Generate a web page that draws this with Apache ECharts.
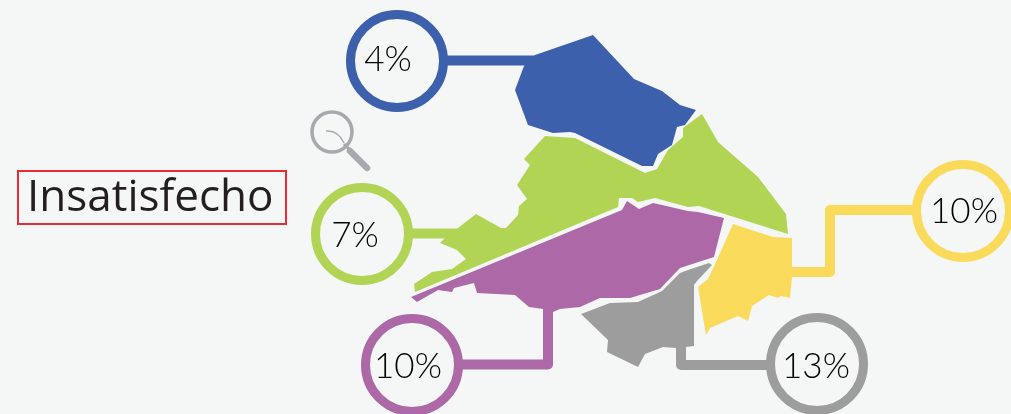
<!DOCTYPE html>
<html>
<head>
<meta charset="utf-8">
<style>
	html, body { margin: 0; padding: 0; background: #f5f7f6; }
	#chart { width: 1011px; height: 414px; }
</style>
<script src="https://cdn.jsdelivr.net/npm/echarts@6/dist/echarts.min.js"></script>
</head>
<body>
<div id="chart"></div>
<script>
let titleText = "Insatisfecho";
let regions = ["norte", "oeste", "centro", "leste", "sul"];
let percents = [4, 7, 10, 10, 13];
let colors = ["#3c60ab", "#b1d455", "#ad68a8", "#f9da5a", "#9d9d9d"];

// region outlines, in the pixel space of the svg base map
let outlines = {
	norte: "535,55 593,35 634,79 662,91 680,105 696,110 685,125 677,127 672,145 658,154 653,166 642,166 575,133 570,132 553,133 528,125 515,90 524,66",
	oeste: "545,136 575,138 645,173 657,169 668,150 683,137 683,128 702,114 718,142 758,177 786,214 788,234 699,206 688,207 655,198 638,202 632,198 619,198 618,207 415,292 414,284 432,272 452,269 466,259 457,250 440,243 444,239 458,228 476,214 501,228 506,228 518,215 519,206 527,199 517,185 530,165 524,159",
	centro: "411,297 417,302 438,290 452,292 454,288 474,283 477,293 515,295 529,307 543,309 553,312 560,309 580,307 600,298 630,298 660,289 680,268 714,257 724,218 698,212 688,211 653,203 639,209 627,201 622,210",
	leste: "733,224 773,237 792,238 792,277 790,298 781,296 778,298 769,295 752,306 748,321 738,316 710,328 706,335 698,287 708,279 717,260",
	sul: "709,263 712,265 697,281 694,285 694,346 686,347 676,348 663,347 645,354 638,367 607,352 608,340 581,314 610,303 638,302 662,291 680,273 688,270",
};

// bubble centres and leader lines, same pixel space
let bubbleCenters = [[397, 61], [362, 234], [412, 365], [963, 211], [817, 364]];
let labelOffsets = [[-9, -1], [-7, 2], [-4, 2], [1, 1], [-1, 3]];
let leaders = [
	[[397, 60.5], [540, 60.5]],
	[[362, 233.5], [460, 233.5]],
	[[412, 364.5], [548, 364.5], [548, 300]],
	[[963, 210], [830, 210], [830, 272], [785, 272]],
	[[817, 365], [681, 365], [681, 340]],
];

let svgMap =
	'<svg xmlns="http://www.w3.org/2000/svg" viewBox="0 0 1011 414" width="1011" height="414">' +
	regions
		.map((r) => '<polygon name="' + r + '" points="' + outlines[r] + '"/>')
		.join("") +
	"</svg>";

echarts.registerMap("bairros", { svg: svgMap });

let myChart = echarts.init(document.getElementById("chart"));

let option = {
	backgroundColor: "#f5f7f6",
	animation: false,
	title: {
		text: titleText,
		left: 18,
		top: 173,
		padding: [5, 13, 4, 9],
		borderWidth: 2,
		borderColor: "#ee2a3a",
		textStyle: {
			fontFamily: "Open Sans",
			fontWeight: 400,
			fontSize: 44,
			lineHeight: 40,
			color: "#231f20",
		},
	},
	geo: {
		map: "bairros",
		left: 0,
		right: 0,
		top: 0,
		bottom: 0,
		roam: false,
		silent: true,
		label: { show: false },
		regions: regions.map((r, i) => {
			return {
				name: r,
				itemStyle: { areaColor: colors[i], color: colors[i], borderWidth: 0 },
			};
		}),
	},
	series: [
		{
			type: "lines",
			coordinateSystem: "geo",
			polyline: true,
			silent: true,
			z: 3,
			data: leaders.map((coords, i) => {
				return {
					coords: coords,
					lineStyle: { color: colors[i], width: 10, opacity: 1, join: "round", cap: "butt" },
				};
			}),
		},
		{
			type: "scatter",
			coordinateSystem: "geo",
			symbol: "circle",
			symbolSize: 93,
			silent: true,
			z: 4,
			data: percents.map((p, i) => {
				return {
					value: [bubbleCenters[i][0], bubbleCenters[i][1], p],
					itemStyle: { color: "#f5f7f6", borderColor: colors[i], borderWidth: 9, opacity: 1 },
					label: {
						show: true,
						position: "inside",
						offset: labelOffsets[i],
						formatter: p + "%",
						fontFamily: "Lato",
						fontWeight: 300,
						fontSize: 35,
						color: "#000000",
					},
				};
			}),
		},
	],
	graphic: [
		{
			type: "circle",
			shape: { cx: 332, cy: 132, r: 20 },
			style: { fill: "none", stroke: "#a7a9ac", lineWidth: 3.5 },
		},
		{
			type: "line",
			shape: { x1: 344, y1: 144, x2: 350, y2: 150 },
			style: { stroke: "#a7a9ac", lineWidth: 3 },
		},
		{
			type: "line",
			shape: { x1: 350, y1: 151, x2: 367, y2: 168 },
			style: { stroke: "#a7a9ac", lineWidth: 6.5, lineCap: "round" },
		},
		{
			type: "bezierCurve",
			shape: { x1: 326, y1: 131, cpx1: 338, cpy1: 130, x2: 344, y2: 143 },
			style: { fill: "none", stroke: "#a7a9ac", lineWidth: 1.5 },
		},
	],
};

myChart.setOption(option);
</script>
</body>
</html>
